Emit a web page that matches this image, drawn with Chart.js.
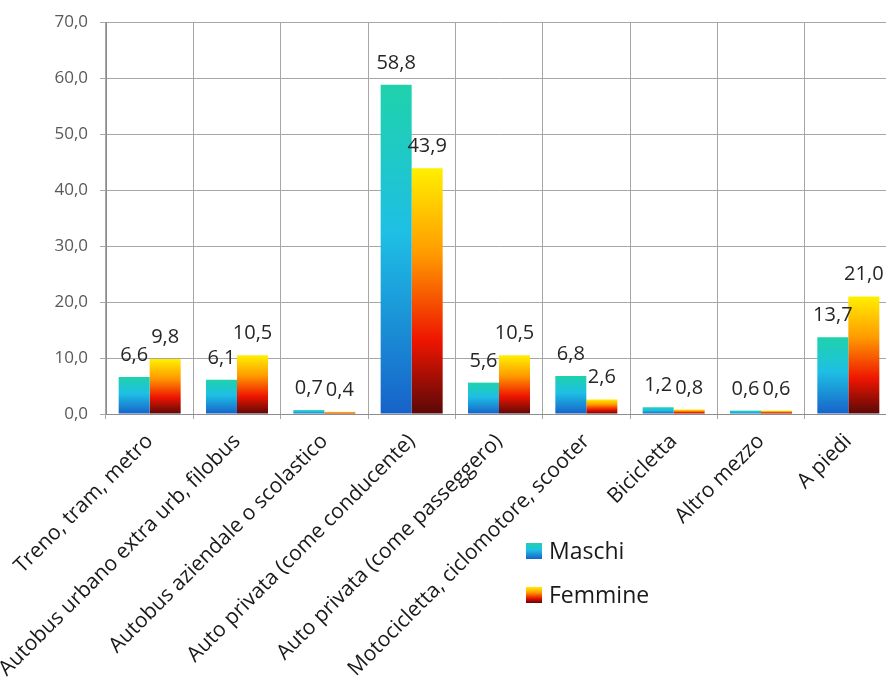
<!DOCTYPE html>
<html lang="it">
<head>
  <meta charset="UTF-8" />
  <title>Mezzo di trasporto per genere</title>
  <script src="https://cdn.jsdelivr.net/npm/chart.js"></script>
  <style>
    html, body {
      margin: 0;
      padding: 0;
      background: #fff;
      overflow: hidden;
    }
    #wrap {
      position: relative;
      width: 892px;
      height: 680px;
    }
  </style>
</head>
<body>
  <div id="wrap"><canvas id="chart"></canvas></div>

  <script>
    const categories = [
      'Treno, tram, metro',
      'Autobus urbano extra urb, filobus',
      'Autobus aziendale o scolastico',
      'Auto privata (come conducente)',
      'Auto privata (come passeggero)',
      'Motocicletta, ciclomotore, scooter',
      'Bicicletta',
      'Altro mezzo',
      'A piedi'
    ];
    const maschi = [6.6, 6.1, 0.7, 58.8, 5.6, 6.8, 1.2, 0.6, 13.7];
    const femmine = [9.8, 10.5, 0.4, 43.9, 10.5, 2.6, 0.8, 0.6, 21.0];
    const seriesNames = ['Maschi', 'Femmine'];
    const yTickLabels = ['0,0', '10,0', '20,0', '30,0', '40,0', '50,0', '60,0', '70,0'];

    // gradient stops, top of the bar first
    const maschiStops = [[0, '#1fd2ab'], [0.45, '#1ebfe4'], [1, '#1762c9']];
    const femmineStops = [[0, '#fff000'], [0.35, '#ff9a00'], [0.7, '#ee1500'], [1, '#5a0808']];

    function fmt(v) {
      return v.toFixed(1).replace('.', ',');
    }

    function barFill(stops) {
      return function (c) {
        const chart = c.chart;
        const y = chart.scales.y;
        if (c.type !== 'data' || !y) return stops[1][1];
        const top = y.getPixelForValue(c.raw);
        const base = y.getPixelForValue(0);
        if (!(base - top > 0.5)) return stops[1][1];
        const g = chart.ctx.createLinearGradient(0, top, 0, base);
        stops.forEach(s => g.addColorStop(s[0], s[1]));
        return g;
      };
    }

    const valueLabels = {
      id: 'valueLabels',
      afterDatasetsDraw(chart) {
        const ctx = chart.ctx;
        ctx.save();
        ctx.font = '20px "Open Sans"';
        ctx.fillStyle = '#262626';
        ctx.textAlign = 'center';
        ctx.textBaseline = 'alphabetic';
        chart.data.datasets.forEach((ds, i) => {
          chart.getDatasetMeta(i).data.forEach((bar, j) => {
            ctx.fillText(fmt(ds.data[j]), bar.x, bar.y - 16);
          });
        });
        ctx.restore();
      }
    };

    // legend sits below the plot, right of the rotated labels
    const sideLegend = {
      id: 'sideLegend',
      afterDraw(chart) {
        const ctx = chart.ctx;
        const area = chart.chartArea;
        const x = area.left + 420;
        const stopsList = [maschiStops, femmineStops];
        ctx.save();
        ctx.font = '23px "Open Sans"';
        ctx.textBaseline = 'alphabetic';
        chart.data.datasets.forEach((ds, i) => {
          const y = area.bottom + 129 + i * 44;
          const g = ctx.createLinearGradient(0, y, 0, y + 16);
          stopsList[i].forEach(s => g.addColorStop(s[0], s[1]));
          ctx.fillStyle = g;
          ctx.fillRect(x, y, 16, 16);
          ctx.fillStyle = '#1a1a1a';
          ctx.fillText(ds.label, x + 23, y + 16);
        });
        ctx.restore();
      }
    };

    new Chart(document.getElementById('chart'), {
      type: 'bar',
      data: {
        labels: categories,
        datasets: [
          {
            label: seriesNames[0],
            data: maschi,
            backgroundColor: barFill(maschiStops),
            borderWidth: 0
          },
          {
            label: seriesNames[1],
            data: femmine,
            backgroundColor: barFill(femmineStops),
            borderWidth: 0
          }
        ]
      },
      options: {
        responsive: true,
        maintainAspectRatio: false,
        animation: false,
        categoryPercentage: 0.71,
        barPercentage: 1.0,
        layout: { padding: { top: 22, left: 0, right: 0, bottom: 0 } },
        plugins: {
          legend: { display: false },
          tooltip: { enabled: false }
        },
        scales: {
          x: {
            ticks: {
              color: '#1a1a1a',
              font: { family: 'Open Sans', size: 21 },
              minRotation: 45,
              maxRotation: 45,
              autoSkip: false,
              padding: 10
            },
            grid: { color: '#a6a6a6', tickLength: 5, offset: true },
            border: { color: '#8c8c8c' },
            afterFit(s) {
              s.height = 266;
              s.paddingLeft = 0;
              s.paddingRight = 0;
            }
          },
          y: {
            min: 0,
            max: 70,
            ticks: {
              stepSize: 10,
              color: '#595959',
              font: { family: 'Open Sans', size: 17 },
              padding: 12,
              callback: (v, i) => yTickLabels[i]
            },
            grid: { color: '#a6a6a6', tickLength: 6 },
            border: { color: '#8c8c8c' },
            afterFit(s) {
              s.width = 106;
              s.paddingTop = 0;
              s.paddingBottom = 0;
            }
          }
        }
      },
      plugins: [valueLabels, sideLegend]
    });
  </script>
</body>
</html>
